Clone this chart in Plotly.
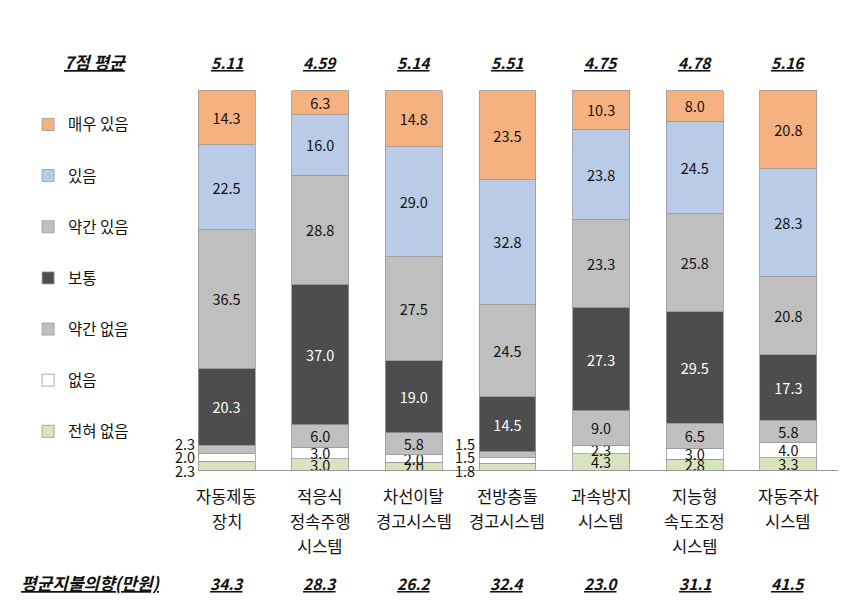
import plotly.graph_objects as go

categories = ["자동제동\n장치", "적응식\n정속주행\n시스템", "차선이탈\n경고시스템", "전방충돌\n경고시스템",
              "과속방지\n시스템", "지능형\n속도조정\n시스템", "자동주차\n시스템"]

# series from bottom to top
series_names = ["전혀 없음", "없음", "약간 없음", "보통", "약간 있음", "있음", "매우 있음"]
v_none_at_all = [2.3, 3.0, 2.0, 1.8, 4.3, 2.8, 3.3]
v_none = [2.0, 3.0, 2.0, 1.5, 2.3, 3.0, 4.0]
v_little_none = [2.3, 6.0, 5.8, 1.5, 9.0, 6.5, 5.8]
v_normal = [20.3, 37.0, 19.0, 14.5, 27.3, 29.5, 17.3]
v_little_yes = [36.5, 28.8, 27.5, 24.5, 23.3, 25.8, 20.8]
v_yes = [22.5, 16.0, 29.0, 32.8, 23.8, 24.5, 28.3]
v_very_yes = [14.3, 6.3, 14.8, 23.5, 10.3, 8.0, 20.8]

avg7 = ["5.11", "4.59", "5.14", "5.51", "4.75", "4.78", "5.16"]
pay = ["34.3", "28.3", "26.2", "32.4", "23.0", "31.1", "41.5"]

# categories whose three smallest segments are labelled outside the bar
outside_label_idx = [0, 3]

series_values = [v_none_at_all, v_none, v_little_none, v_normal, v_little_yes, v_yes, v_very_yes]
colors = ["#D7E4BD", "#FFFFFF", "#BFBFBF", "#4D4D4D", "#BFBFBF", "#B9CBE6", "#F5B17F"]
text_colors = ["#111111", "#111111", "#111111", "#FFFFFF", "#111111", "#111111", "#111111"]

FONT = "Noto Sans CJK KR, Malgun Gothic, sans-serif"

x_idx = list(range(len(categories)))

fig = go.Figure()
n_series = len(series_names)
for si, (name, vals) in enumerate(zip(series_names, series_values)):
    texts = []
    for ci, v in enumerate(vals):
        if si < 3 and ci in outside_label_idx:
            texts.append("")
        else:
            texts.append(f"{v:.1f}")
    fig.add_trace(go.Bar(
        x=x_idx, y=vals, name=name, legendgroup=name, legendrank=n_series - si,
        marker=dict(color=colors[si], line=dict(color="#999999", width=0.8)),
        text=texts, textposition="inside", insidetextanchor="middle",
        textangle=0, constraintext="none",
        textfont=dict(family=FONT, size=14.5, color=text_colors[si]),
        hoverinfo="skip",
    ))

annotations = []
# outside labels for the small bottom segments
for ci in outside_label_idx:
    for k, si in enumerate([0, 1, 2]):
        annotations.append(dict(
            x=ci, y=0, xref="x", yref="y", xshift=-30, yshift=k * 13.5,
            text=f"{series_values[si][ci]:.1f}", showarrow=False,
            xanchor="right", yanchor="middle",
            font=dict(family=FONT, size=14.5, color="#111111")))

# category labels, line by line
for ci, cat in enumerate(categories):
    for li, line in enumerate(cat.split("\n")):
        annotations.append(dict(
            x=ci, y=-0.0684 - li * 0.0658, xref="x", yref="paper",
            text=line, showarrow=False, xanchor="center", yanchor="middle",
            font=dict(family=FONT, size=16.5, color="#111111")))

emph_num = dict(family=FONT, size=15.5, color="#111111", weight="bold", style="italic", lineposition="under")
emph_txt = dict(family=FONT, size=17, color="#111111", weight="bold", style="italic", lineposition="under")
for ci in x_idx:
    annotations.append(dict(x=ci, y=1.0737, xref="x", yref="paper", text=avg7[ci],
                            showarrow=False, xanchor="center", yanchor="middle", font=emph_num))
    annotations.append(dict(x=ci, y=-0.297, xref="x", yref="paper", text=pay[ci],
                            showarrow=False, xanchor="center", yanchor="middle", font=emph_num))
annotations.append(dict(x=0, y=1.0737, xref="paper", yref="paper", text="7점 평균",
                        showarrow=False, xanchor="center", yanchor="middle", font=emph_txt, xshift=-103))
annotations.append(dict(x=0, y=-0.297, xref="paper", yref="paper", text="평균지불의향(만원)",
                        showarrow=False, xanchor="center", yanchor="middle", font=emph_txt, xshift=-107))

fig.update_layout(
    width=868, height=601,
    margin=dict(l=190, r=38, t=82, b=139, autoexpand=False),
    paper_bgcolor="white", plot_bgcolor="white",
    barmode="stack", bargap=0.392,
    font=dict(family=FONT, size=14, color="#111111"),
    xaxis=dict(range=[-0.305, 6.53], showticklabels=False, showgrid=False, zeroline=False,
               showline=True, linecolor="#999999", linewidth=1, ticks="", fixedrange=True),
    yaxis=dict(range=[0, 100.3], visible=False, fixedrange=True),
    legend=dict(x=-0.2655, y=0.953, xanchor="left", yanchor="top",
                traceorder="grouped", tracegroupgap=28,
                font=dict(family=FONT, size=15.5, color="#111111"),
                bgcolor="rgba(0,0,0,0)"),
    annotations=annotations,
    showlegend=True,
)

fig.write_html("out.html")
